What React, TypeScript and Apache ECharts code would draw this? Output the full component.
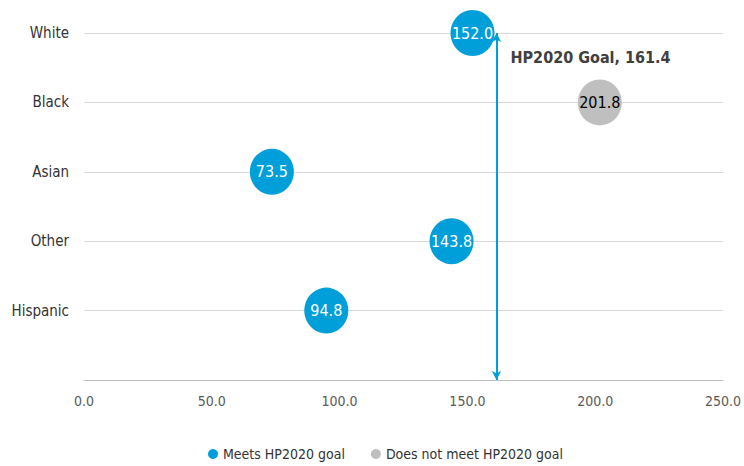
import React, { useEffect, useRef } from "react";
import * as echarts from "echarts";

const categories = ["Hispanic", "Other", "Asian", "Black", "White"]; // y = 1..5
const meetsNames = ["White", "Asian", "Other", "Hispanic"];
const meetsValues = [152.0, 73.5, 143.8, 94.8];
const notMeetNames = ["Black"];
const notMeetValues = [201.8];
const goalValue = 161.4;
const goalLabel = "HP2020 Goal, 161.4";
const xTicks = [0, 50, 100, 150, 200, 250];

const FONT = "'Liberation Sans Narrow', 'DejaVu Sans Condensed', 'Roboto Condensed', 'Arial Narrow', sans-serif";
const BLUE = "#009FDA";
const GRAY = "#BFBFBF";

export default function App() {
  const ref = useRef<HTMLDivElement>(null);
  useEffect(() => {
    if (!ref.current) return;
    const chart = echarts.init(ref.current, undefined, { renderer: "svg" });
    const yOf = (name: string) => categories.indexOf(name) + 1;
    chart.setOption({
      animation: false,
      textStyle: { fontFamily: FONT },
      grid: { left: 84, right: 21, top: 33, bottom: 86 },
      xAxis: {
        type: "value",
        min: xTicks[0],
        max: xTicks[xTicks.length - 1],
        interval: 50,
        axisLine: { show: true, lineStyle: { color: "#BFBFBF", width: 1 } },
        axisTick: { show: false },
        splitLine: { show: false },
        axisLabel: {
          formatter: (v: number) => v.toFixed(1),
          color: "#595959",
          fontSize: 14,
          fontFamily: FONT,
          margin: 14,
        },
      },
      yAxis: {
        type: "value",
        min: 0,
        max: 5,
        interval: 1,
        axisLine: { show: false },
        axisTick: { show: false },
        splitLine: { show: true, lineStyle: { color: "#D9D9D9", width: 1 } },
        axisLabel: {
          formatter: (v: number) => (v >= 1 && v <= 5 ? categories[v - 1] : ""),
          color: "#333333",
          fontSize: 15,
          fontFamily: FONT,
          margin: 15,
        },
      },
      legend: {
        bottom: 0,
        left: 203,
        icon: "circle",
        itemWidth: 10,
        itemHeight: 10,
        itemGap: 26,
        textStyle: { color: "#333333", fontSize: 14, fontFamily: FONT },
        data: ["Meets HP2020 goal", "Does not meet HP2020 goal"],
      },
      series: [
        {
          name: "Meets HP2020 goal",
          type: "scatter",
          symbol: "circle",
          symbolSize: [44, 46],
          itemStyle: { color: BLUE, opacity: 1 },
          label: {
            show: true,
            position: "inside",
            formatter: (p: any) => p.value[0].toFixed(1),
            color: "#FFFFFF",
            fontSize: 16,
            fontFamily: FONT,
          },
          data: meetsNames.map((n, i) => [meetsValues[i], yOf(n)]),
          markLine: {
            silent: true,
            symbol: ["arrow", "arrow"],
            symbolSize: [7, 9],
            lineStyle: { color: BLUE, width: 2, type: "solid" },
            label: { show: false },
            data: [[{ coord: [goalValue, 5] }, { coord: [goalValue, 0] }]],
          },
          markPoint: {
            symbol: "circle",
            symbolSize: 0,
            label: {
              show: true,
              position: "right",
              distance: 14,
              formatter: goalLabel,
              color: "#404040",
              fontSize: 16,
              fontWeight: "bold",
              fontFamily: FONT,
            },
            data: [{ coord: [goalValue, 4.64] }],
          },
        },
        {
          name: "Does not meet HP2020 goal",
          type: "scatter",
          symbol: "circle",
          symbolSize: [44, 46],
          itemStyle: { color: GRAY, opacity: 1 },
          label: {
            show: true,
            position: "inside",
            formatter: (p: any) => p.value[0].toFixed(1),
            color: "#000000",
            fontSize: 16,
            fontFamily: FONT,
          },
          data: notMeetNames.map((n, i) => [notMeetValues[i], yOf(n)]),
        },
      ],
    });
    return () => chart.dispose();
  }, []);
  return (
    <div
      ref={ref}
      style={{ position: "fixed", left: 0, top: 0, width: 744, height: 466, background: "#fff" }}
    />
  );
}
